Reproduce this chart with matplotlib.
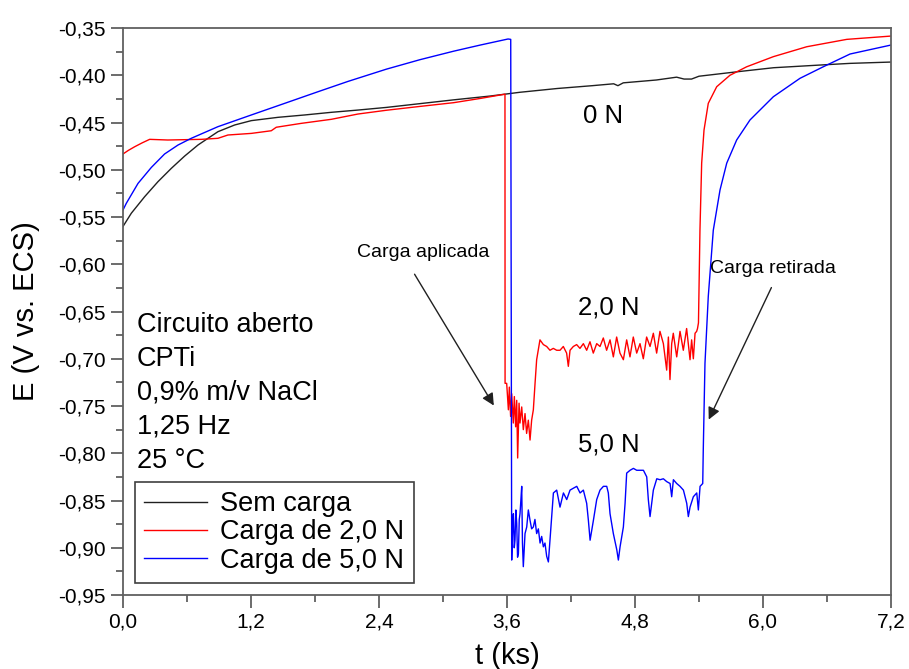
import matplotlib
matplotlib.use("Agg")
import matplotlib.pyplot as plt
from matplotlib.ticker import MultipleLocator, FuncFormatter

plt.rcParams['font.family'] = ['Liberation Sans', 'DejaVu Sans']

# t in ks, E in V vs. ECS
black_t = [0.0, 0.078, 0.203, 0.328, 0.453, 0.578, 0.703, 0.797, 0.89, 1.047,
           1.203, 1.453, 1.703, 1.953, 2.203, 2.47, 3.10, 3.44, 3.72, 4.07, 4.40,
           4.60, 4.64, 4.69, 5.00, 5.19, 5.26, 5.33, 5.40, 5.78, 6.10, 6.56,
           6.816, 7.2]
black_e = [-0.560, -0.546, -0.5285, -0.5126, -0.4985, -0.4855, -0.4738, -0.4667,
           -0.4597, -0.4526, -0.448, -0.4445, -0.442, -0.4392, -0.4368, -0.434,
           -0.426, -0.422, -0.418, -0.414, -0.411, -0.409, -0.411, -0.408, -0.405,
           -0.402, -0.404, -0.404, -0.401, -0.396, -0.392, -0.389, -0.3874, -0.386]

red_t = [0.0, 0.05, 0.11, 0.18, 0.25, 0.42, 0.734, 0.89, 0.984, 1.203, 1.39,
         1.437, 1.67, 1.953, 2.203, 2.47, 2.78, 3.10, 3.35, 3.581, 3.582,
         3.597, 3.613, 3.622, 3.634, 3.644, 3.659, 3.669, 3.681, 3.691, 3.700,
         3.713, 3.722, 3.738, 3.753, 3.769, 3.784, 3.800, 3.816, 3.831, 3.847,
         3.863, 3.878, 3.909, 3.941, 3.972, 4.003, 4.034, 4.066, 4.097, 4.128,
         4.159, 4.175, 4.191, 4.222, 4.253, 4.284, 4.316, 4.347, 4.378, 4.409,
         4.441, 4.472, 4.503, 4.534, 4.566, 4.597, 4.628, 4.659, 4.691, 4.722,
         4.753, 4.784, 4.816, 4.847, 4.878, 4.909, 4.941, 4.972, 5.003, 5.034,
         5.066, 5.097, 5.113, 5.128, 5.144, 5.159, 5.191, 5.222, 5.253, 5.284,
         5.316, 5.331, 5.347, 5.363, 5.378, 5.386,
         5.395, 5.409, 5.425, 5.447, 5.487, 5.566, 5.69, 5.847, 6.097, 6.41,
         6.785, 7.2]
red_e = [-0.4833, -0.4795, -0.4756, -0.4715, -0.4678, -0.4685, -0.4678, -0.4667,
         -0.4632, -0.4615, -0.4587, -0.455, -0.4509, -0.4466, -0.441, -0.437,
         -0.433, -0.429, -0.4245, -0.420, -0.726,
         -0.726, -0.754, -0.730, -0.761, -0.737, -0.768, -0.740, -0.772, -0.744,
         -0.805, -0.747, -0.768, -0.751, -0.775, -0.758, -0.779, -0.765, -0.786,
         -0.765, -0.754, -0.726, -0.701, -0.680, -0.685, -0.687, -0.691, -0.689,
         -0.691, -0.691, -0.687, -0.694, -0.708, -0.691, -0.687, -0.685, -0.689,
         -0.684, -0.691, -0.682, -0.694, -0.684, -0.687, -0.678, -0.691, -0.680,
         -0.698, -0.677, -0.694, -0.701, -0.680, -0.698, -0.677, -0.694, -0.684,
         -0.700, -0.677, -0.687, -0.673, -0.694, -0.671, -0.684, -0.712, -0.677,
         -0.722, -0.684, -0.673, -0.698, -0.671, -0.691, -0.668, -0.701, -0.680,
         -0.700, -0.673, -0.671, -0.668,
         -0.662, -0.564, -0.493, -0.458, -0.4297, -0.4121, -0.400, -0.391,
         -0.3803, -0.3698, -0.362, -0.3585]

blue_t = [0.0, 0.031, 0.141, 0.266, 0.39, 0.516, 0.64, 0.89, 1.203, 1.516,
          1.828, 2.109, 2.47, 2.784, 3.10, 3.35, 3.61,
          3.635, 3.644, 3.652, 3.660, 3.668, 3.675, 3.683, 3.691, 3.699, 3.707,
          3.715, 3.722, 3.730, 3.738, 3.745, 3.753, 3.769, 3.785, 3.800, 3.816,
          3.831, 3.847, 3.862, 3.878, 3.894, 3.910, 3.925, 3.941, 3.956, 3.972,
          3.988, 4.003, 4.035, 4.066, 4.097, 4.129, 4.160, 4.191, 4.222, 4.254,
          4.285, 4.316, 4.347, 4.363, 4.379, 4.410, 4.441, 4.472, 4.504, 4.535,
          4.550, 4.566, 4.597, 4.629, 4.644, 4.660, 4.691, 4.707, 4.722, 4.754,
          4.785, 4.816, 4.847, 4.879, 4.910, 4.925, 4.941, 4.972, 5.004, 5.035,
          5.066, 5.097, 5.129, 5.144, 5.160, 5.191, 5.222, 5.254, 5.285, 5.300,
          5.316, 5.347, 5.379, 5.394, 5.410, 5.435,
          5.44, 5.456, 5.487, 5.534, 5.597, 5.66, 5.753, 5.878, 6.097, 6.347,
          6.565, 6.816, 7.2]
blue_e = [-0.5426, -0.5355, -0.5144, -0.4975, -0.4833, -0.4738, -0.4667, -0.4544,
          -0.442, -0.4297, -0.4174, -0.4065, -0.3935, -0.3835, -0.3745, -0.368,
          -0.3616,
          -0.362, -0.913, -0.880, -0.864, -0.900, -0.892, -0.860, -0.874, -0.910,
          -0.906, -0.870, -0.864, -0.850, -0.835, -0.895, -0.920, -0.885, -0.878,
          -0.860, -0.871, -0.880, -0.878, -0.870, -0.885, -0.880, -0.895, -0.888,
          -0.899, -0.895, -0.909, -0.915, -0.892, -0.842, -0.839, -0.857, -0.842,
          -0.849, -0.839, -0.837, -0.835, -0.842, -0.839, -0.853, -0.871, -0.892,
          -0.871, -0.849, -0.839, -0.835, -0.835, -0.842, -0.864, -0.885, -0.902,
          -0.913, -0.899, -0.878, -0.853, -0.821, -0.818, -0.816, -0.818, -0.818,
          -0.818, -0.825, -0.849, -0.867, -0.839, -0.827, -0.828, -0.827, -0.830,
          -0.832, -0.846, -0.828, -0.832, -0.835, -0.839, -0.853, -0.867, -0.857,
          -0.846, -0.842, -0.860, -0.835, -0.832,
          -0.7966, -0.705, -0.634, -0.564, -0.5214, -0.493, -0.4685, -0.4473,
          -0.4227, -0.4032, -0.391, -0.3775, -0.368]

series_labels = ['Sem carga', 'Carga de 2,0 N', 'Carga de 5,0 N']
info_lines = ['Circuito aberto', 'CPTi', '0,9% m/v NaCl', '1,25 Hz', '25 \u00b0C']

fig = plt.figure(figsize=(9.09, 6.69), dpi=100)
ax = fig.add_axes([0.1353, 0.1106, 0.8449, 0.8475])

ax.plot(black_t, black_e, color='#202020', lw=1.0, label=series_labels[0])
ax.plot(red_t, red_e, color='#ff0000', lw=1.0, label=series_labels[1])
ax.plot(blue_t, blue_e, color='#0000ff', lw=1.0, label=series_labels[2])

ax.set_xlim(0, 7.2)
ax.set_ylim(-0.95, -0.35)
ax.xaxis.set_major_locator(MultipleLocator(1.2))
ax.xaxis.set_minor_locator(MultipleLocator(0.6))
ax.yaxis.set_major_locator(MultipleLocator(0.05))
ax.yaxis.set_minor_locator(MultipleLocator(0.025))
ax.xaxis.set_major_formatter(FuncFormatter(lambda v, p: ('%.1f' % v).replace('.', ',')))
ax.yaxis.set_major_formatter(FuncFormatter(lambda v, p: ('%.2f' % v).replace('.', ',')))

for s in ax.spines.values():
    s.set_color('#606060')
    s.set_linewidth(1.3)
ax.tick_params(which='both', direction='out', colors='#606060', labelcolor='black',
               top=False, right=False)
ax.tick_params(which='major', length=9, width=1.3, labelsize=15)
ax.tick_params(which='minor', length=5, width=1.3)

ax.set_xlabel('t (ks)', fontsize=21, labelpad=8)
ax.set_ylabel('E (V vs. ECS)', fontsize=21, labelpad=13)

for i, line in enumerate(info_lines):
    ax.text(0.13, -0.664 - i * 0.036, line, fontsize=19.5, va='center', ha='left')

ax.text(4.5, -0.443, '0 N', fontsize=18.5, ha='center', va='center')
ax.text(4.55, -0.646, '2,0 N', fontsize=18.5, ha='center', va='center')
ax.text(4.55, -0.791, '5,0 N', fontsize=18.5, ha='center', va='center')

arrow = dict(arrowstyle='-|>', color='#202020', lw=1.0, mutation_scale=18)
ax.annotate('', xy=(3.49, -0.752), xytext=(2.72, -0.608), arrowprops=arrow)
ax.text(2.81, -0.588, 'Carga aplicada', fontsize=14, ha='center', va='center')
ax.annotate('', xy=(5.48, -0.767), xytext=(6.09, -0.622), arrowprops=arrow)
ax.text(6.09, -0.604, 'Carga retirada', fontsize=14, ha='center', va='center')

leg = ax.legend(loc='lower left', bbox_to_anchor=(0.0156, 0.021), borderaxespad=0,
                fontsize=19.5, handlelength=2.3, fancybox=False, framealpha=1,
                edgecolor='#404040', labelspacing=0.08, borderpad=0.35,
                handletextpad=0.5)
leg.get_frame().set_linewidth(1.2)

fig.savefig('out.png', dpi=100)
